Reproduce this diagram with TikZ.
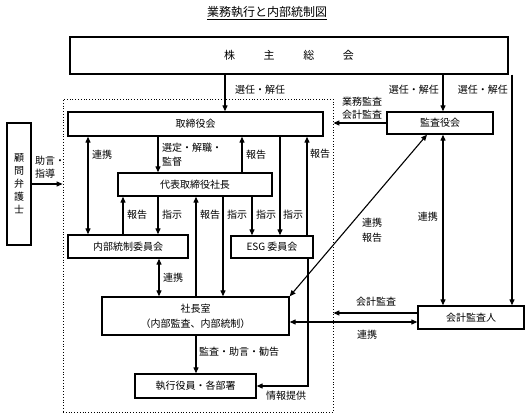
\documentclass[tikz,border=0pt]{standalone}
\usepackage{fontspec}
\setmainfont{Noto Sans CJK JP}
\usetikzlibrary{arrows.meta,calc}
\begin{document}
\begin{tikzpicture}[x=1pt,y=-1pt,
 box/.style={draw,line width=1.3pt,inner sep=0pt,font=\fontsize{10}{12}\selectfont},
 arr/.style={line width=1.1pt,-{Triangle[length=6pt,width=5pt]}},
 darr/.style={line width=1.1pt,{Triangle[length=6pt,width=5pt]}-{Triangle[length=6pt,width=5pt]}},
 lbl/.style={inner sep=0pt,font=\fontsize{10}{12}\selectfont}]
\useasboundingbox (0,0) rectangle (531,419);
% title
\node[lbl,font=\fontsize{12}{14}\selectfont] (title) at (267,13) {\underline{業務執行と内部統制図}};
% frame
\node[draw,dotted,line width=0.8pt,minimum width=270pt,minimum height=313pt,inner sep=0pt] (frame) at (198,255.5) {};
% boxes
\node[box,minimum width=438pt,minimum height=37pt,font=\fontsize{11}{13}\selectfont] (kabu) at (289,55.5) {株\hspace{2.6em}主\hspace{2.6em}総\hspace{2.6em}会};
\node[box,minimum width=255pt,minimum height=24pt] (tori) at (195.5,124) {取締役会};
\node[box,minimum width=106pt,minimum height=22pt] (kansa) at (440,123) {監査役会};
\node[box,minimum width=24pt,minimum height=122pt,align=center,font=\fontsize{10}{13}\selectfont] (komon) at (19,184) {顧\\問\\弁\\護\\士};
\node[box,minimum width=154pt,minimum height=23pt] (daihyo) at (195,184.5) {代表取締役社長};
\node[box,minimum width=120pt,minimum height=23pt] (naibu) at (128,246.5) {内部統制委員会};
\node[box,minimum width=82pt,minimum height=22pt] (esg) at (272,247) {ESG 委員会};
\node[box,minimum width=187pt,minimum height=38pt,align=center,font=\fontsize{10}{15}\selectfont] (shacho) at (195.5,316) {社長室\\（内部監査、内部統制）};
\node[box,minimum width=121pt,minimum height=24pt] (shikko) at (195.5,386) {執行役員・各部署};
\node[box,minimum width=106pt,minimum height=23pt] (kaikei) at (471,317.5) {会計監査人};
% helper coordinates
\foreach \xx in {88,123,158,159,196,223,225,242,252,280,307,308,427,443,512}{\coordinate (c\xx) at (\xx,0);}
\foreach \yy in {313,322}{\coordinate (y\yy) at (0,\yy);}
% connectors
\draw[arr] (kabu.south -| c225) -- (tori.north -| c225);
\draw[arr] (kabu.south -| c443) -- (kansa.north -| c443);
\draw[arr] (kabu.south -| c512) -- (kaikei.north -| c512);
\draw[arr] (kansa.west) -- (frame.east |- kansa.west);
\draw[arr] (komon.east) -- (frame.west |- komon.east);
\draw[darr] (tori.south -| c88) -- (naibu.north -| c88);
\draw[arr] (tori.south -| c158) -- (daihyo.north -| c158);
\draw[arr] (daihyo.north -| c242) -- (tori.south -| c242);
\draw[arr] (tori.south -| c280) -- (esg.north -| c280);
\draw[arr] (esg.north -| c307) -- (tori.south -| c307);
\draw[arr] (naibu.north -| c123) -- (daihyo.south -| c123);
\draw[arr] (daihyo.south -| c158) -- (naibu.north -| c158);
\draw[arr] (shacho.north -| c196) -- (daihyo.south -| c196);
\draw[arr] (daihyo.south -| c223) -- (shacho.north -| c223);
\draw[arr] (daihyo.south -| c252) -- (esg.north -| c252);
\draw[darr] (naibu.south -| c159) -- (shacho.north -| c159);
\draw[arr] (shacho.south -| c196) -- (shikko.north -| c196);
\draw[arr] (esg.south -| c308) |- (shikko.east);
\draw[darr] (shacho.north east) -- (kansa.south -| c427);
\draw[darr] (kansa.south -| c443) -- (kaikei.north -| c443);
\draw[arr] (kaikei.west |- y313) -- (frame.east |- y313);
\draw[darr] (shacho.east |- y322) -- (kaikei.west |- y322);
% labels
\node[lbl,anchor=west] (l1) at (235,90) {選任・解任};
\node[lbl,anchor=east] (l2) at (439,90) {選任・解任};
\node[lbl,anchor=east] (l3) at (508,90) {選任・解任};
\node[lbl,align=center,font=\fontsize{10}{13}\selectfont] (l4) at (362,108) {業務監査\\会計監査};
\node[lbl,align=left,anchor=west,font=\fontsize{10}{13}\selectfont] (l5) at (35,167) {助言・\\指導};
\node[lbl,anchor=west] (l6) at (92,155) {連携};
\node[lbl,align=left,anchor=west,font=\fontsize{10}{14}\selectfont] (l7) at (162,155) {選定・解職・\\監督};
\node[lbl,anchor=west] (l8) at (246,155) {報告};
\node[lbl,anchor=west] (l9) at (310,154) {報告};
\node[lbl,anchor=west] (l10) at (127,215) {報告};
\node[lbl,anchor=west] (l11) at (162,215) {指示};
\node[lbl,anchor=west] (l12) at (200,215) {報告};
\node[lbl,anchor=west] (l13) at (227,215) {指示};
\node[lbl,anchor=west] (l14) at (256,215) {指示};
\node[lbl,anchor=west] (l15) at (283,215) {指示};
\node[lbl,anchor=west] (l16) at (163,278) {連携};
\node[lbl,anchor=west] (l17) at (199,352) {監査・助言・勧告};
\node[lbl] (l18) at (286,396) {情報提供};
\node[lbl,align=center,font=\fontsize{10}{15}\selectfont] (l19) at (372,230) {連携\\報告};
\node[lbl,anchor=east] (l20) at (438,217) {連携};
\node[lbl] (l21) at (376,302) {会計監査};
\node[lbl] (l22) at (367,335) {連携};
\end{tikzpicture}
\end{document}
